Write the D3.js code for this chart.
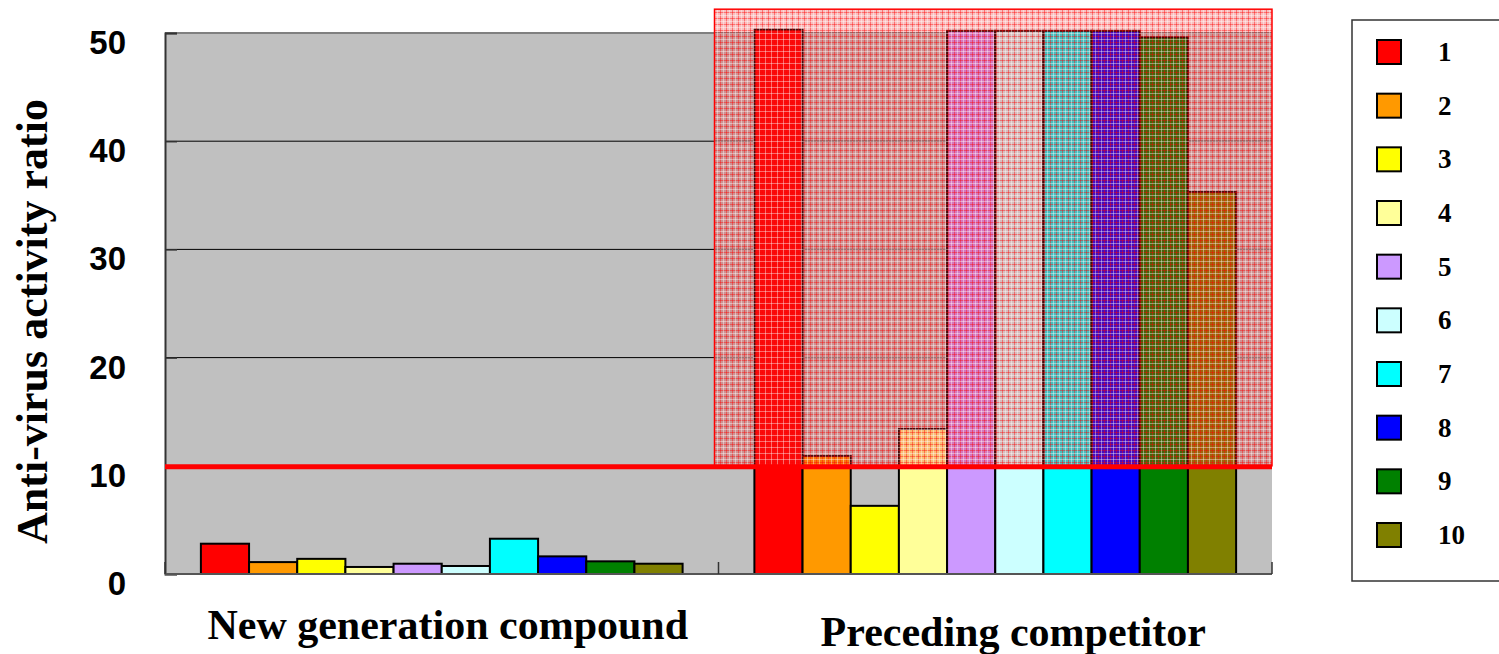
<!DOCTYPE html>
<html>
<head>
<meta charset="utf-8">
<script src="https://cdn.jsdelivr.net/npm/d3@7"></script>
<style>
  html, body { margin: 0; padding: 0; background: #fff; }
  svg { display: block; }
</style>
</head>
<body>
<div id="chart"></div>
<script>
// data
const categories = ["New generation compound", "Preceding competitor"];
const series = ["1", "2", "3", "4", "5", "6", "7", "8", "9", "10"];
const newGeneration = [2.8, 1.1, 1.4, 0.65, 0.95, 0.74, 3.26, 1.63, 1.17, 0.95];
const preceding = [50.3, 10.9, 6.3, 13.4, 50.2, 50.2, 50.2, 50.2, 49.6, 35.3];
const yTicks = [0, 10, 20, 30, 40, 50];
const threshold = 10;
const shadedRange = [10, 52.2];

const colors = ["#ff0000", "#ff9900", "#ffff00", "#ffff99", "#cc99ff",
                "#ccffff", "#00ffff", "#0000ff", "#008000", "#808000"];

const W = 1499, H = 654;
const plot = { left: 165, right: 1272, top: 33, bottom: 574 };

const svg = d3.select('#chart').append('svg')
  .attr('width', W).attr('height', H);

// hatch pattern for the shaded block
const defs = svg.append('defs');
const pat = defs.append('pattern')
  .attr('id', 'hatch').attr('patternUnits', 'userSpaceOnUse')
  .attr('width', 6).attr('height', 6);
pat.append('rect').attr('width', 6).attr('height', 6).attr('fill', 'rgba(235,40,40,0.3)');
pat.append('rect').attr('x', 0).attr('width', 1).attr('height', 6).attr('fill', 'rgba(255,0,0,0.4)');
pat.append('rect').attr('y', 0).attr('width', 6).attr('height', 1).attr('fill', 'rgba(255,0,0,0.4)');
pat.append('rect').attr('x', 3).attr('width', 1).attr('height', 6).attr('fill', 'rgba(255,255,255,0.4)');
pat.append('rect').attr('y', 3).attr('width', 6).attr('height', 1).attr('fill', 'rgba(255,255,255,0.4)');

const x0 = d3.scaleBand().domain(categories).range([plot.left, plot.right]);
const x1 = d3.scaleBand().domain(series).range([0, x0.bandwidth()]).paddingInner(0).paddingOuter(0.745);
const y = d3.scaleLinear().domain([0, 50]).range([plot.bottom, plot.top]);

// plot area
svg.append('rect')
  .attr('x', plot.left).attr('y', plot.top)
  .attr('width', plot.right - plot.left).attr('height', plot.bottom - plot.top)
  .attr('fill', '#c0c0c0');

// gridlines
svg.append('g').selectAll('line').data(yTicks.filter(d => d > 0 && d < 50)).join('line')
  .attr('x1', plot.left).attr('x2', plot.right)
  .attr('y1', d => y(d)).attr('y2', d => y(d))
  .attr('stroke', '#000').attr('stroke-width', 1);
svg.append('line')
  .attr('x1', plot.left).attr('x2', plot.right)
  .attr('y1', y(50)).attr('y2', y(50))
  .attr('stroke', '#808080').attr('stroke-width', 2);

// bars
const groups = [newGeneration, preceding];
svg.append('g').selectAll('g').data(categories).join('g')
  .attr('transform', d => `translate(${x0(d)},0)`)
  .selectAll('rect')
  .data((d, i) => groups[i].map((v, j) => ({ key: series[j], value: v, color: colors[j] })))
  .join('rect')
    .attr('x', d => x1(d.key))
    .attr('y', d => y(d.value))
    .attr('width', x1.bandwidth())
    .attr('height', d => y(0) - y(d.value))
    .attr('fill', d => d.color)
    .attr('stroke', '#000')
    .attr('stroke-width', 2);

// axes
const yAxis = d3.axisLeft(y).tickValues(yTicks).tickSize(-12).tickFormat('');
svg.append('g').attr('transform', `translate(${plot.left},0)`).call(yAxis)
  .call(g => g.select('.domain').attr('stroke', '#333').attr('stroke-width', 2))
  .call(g => g.selectAll('.tick line').attr('stroke', '#333').attr('stroke-width', 1.5));

svg.append('line')
  .attr('x1', plot.left).attr('x2', plot.right)
  .attr('y1', plot.bottom).attr('y2', plot.bottom)
  .attr('stroke', '#555').attr('stroke-width', 2);
svg.append('g').selectAll('line').data([plot.left, x0(categories[1]), plot.right]).join('line')
  .attr('x1', d => d).attr('x2', d => d)
  .attr('y1', plot.bottom).attr('y2', plot.bottom - 12)
  .attr('stroke', '#333').attr('stroke-width', 1.5);

// shaded block over the preceding competitor group
svg.append('rect')
  .attr('x', x0(categories[1]) - 4)
  .attr('y', y(shadedRange[1]))
  .attr('width', plot.right - x0(categories[1]) + 4)
  .attr('height', y(shadedRange[0]) - y(shadedRange[1]))
  .attr('fill', 'url(#hatch)')
  .attr('stroke', '#ff0000').attr('stroke-width', 1.5);

// threshold line
svg.append('line')
  .attr('x1', plot.left).attr('x2', plot.right)
  .attr('y1', y(threshold) + 1).attr('y2', y(threshold) + 1)
  .attr('stroke', '#ff0000').attr('stroke-width', 5);

// y tick labels
svg.append('g').selectAll('text').data(yTicks).join('text')
  .attr('x', 126).attr('y', d => y(d) + 21)
  .attr('text-anchor', 'end')
  .attr('font-family', '"Liberation Sans", Arial, sans-serif')
  .attr('font-weight', 'bold').attr('font-size', 33)
  .text(d => d);

// y title
svg.append('text')
  .attr('transform', `translate(47,${(plot.top + plot.bottom) / 2 + 18}) rotate(-90)`)
  .attr('text-anchor', 'middle')
  .attr('font-family', '"Liberation Serif", "Times New Roman", serif')
  .attr('font-weight', 'bold').attr('font-size', 44)
  .text('Anti-virus activity ratio');

// category labels
const catDx = [6, 18], catY = [639, 646];
svg.append('g').selectAll('text').data(categories).join('text')
  .attr('x', (d, i) => x0(d) + x0.bandwidth() / 2 + catDx[i])
  .attr('y', (d, i) => catY[i])
  .attr('text-anchor', 'middle')
  .attr('font-family', '"Liberation Serif", "Times New Roman", serif')
  .attr('font-weight', 'bold').attr('font-size', 42)
  .text(d => d);

// legend
const legend = svg.append('g');
legend.append('rect')
  .attr('x', 1352).attr('y', 20).attr('width', 200).attr('height', 561)
  .attr('fill', '#fff').attr('stroke', '#333').attr('stroke-width', 1.5);
const ly = d3.scalePoint().domain(series).range([52, 535]);
const items = legend.selectAll('g').data(series).join('g')
  .attr('transform', d => `translate(0,${ly(d)})`);
items.append('rect')
  .attr('x', 1377).attr('y', -12).attr('width', 24).attr('height', 24)
  .attr('fill', (d, i) => colors[i]).attr('stroke', '#000').attr('stroke-width', 2);
items.append('text')
  .attr('x', 1438).attr('y', 9)
  .attr('font-family', '"Liberation Serif", "Times New Roman", serif')
  .attr('font-weight', 'bold').attr('font-size', 27)
  .text(d => d);
</script>
</body>
</html>
